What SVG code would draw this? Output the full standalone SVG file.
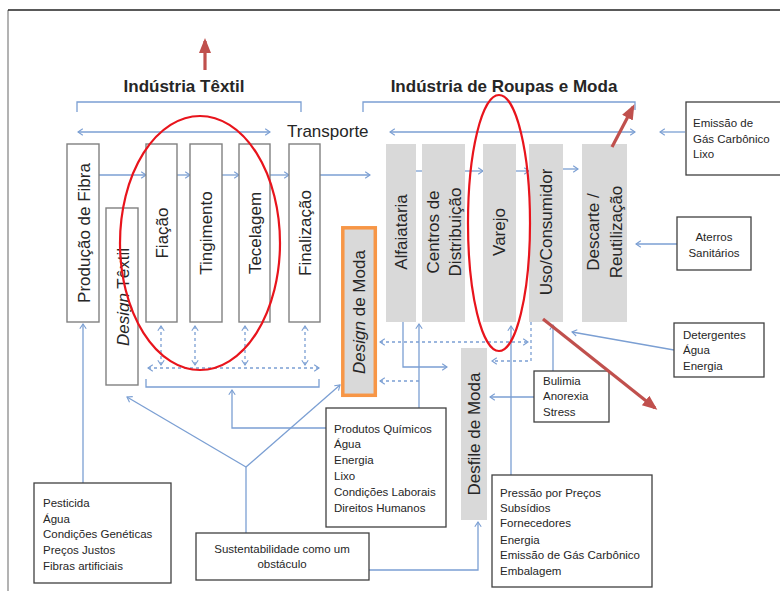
<svg xmlns="http://www.w3.org/2000/svg" width="780" height="591" viewBox="0 0 780 591">
<defs>
<style>
.t{font-family:"Liberation Sans",Arial,sans-serif;fill:#262626}
.h{font-size:17px;font-weight:bold}
.v{font-size:17px}
.s{font-size:11.5px}
.bx{fill:#fff;stroke:#808080;stroke-width:1.4}
.tb{fill:#fff;stroke:#404040;stroke-width:1.3}
.g{fill:#d9d9d9}
.c{fill:none;stroke:#7b9fd3;stroke-width:1.3}
.d{fill:none;stroke:#7b9fd3;stroke-width:1.3;stroke-dasharray:3 3}
.re{fill:none;stroke:#e8141c;stroke-width:2.2}
.ra{fill:none;stroke:#c0504d;stroke-width:3.2}
</style>
<marker id="a" viewBox="0 0 10 10" refX="9" refY="5" markerWidth="8" markerHeight="8" orient="auto-start-reverse" markerUnits="userSpaceOnUse">
<path d="M3,1 L9,5 L3,9" fill="none" stroke="#7b9fd3" stroke-width="1.4"/>
</marker>
<marker id="r" viewBox="0 0 10 10" refX="8" refY="5" markerWidth="15" markerHeight="15" orient="auto" markerUnits="userSpaceOnUse">
<path d="M0,1 L10,5 L0,9 Z" fill="#c0504d"/>
</marker>
</defs>
<rect width="780" height="591" fill="#fff"/>
<path d="M8,591 V10" fill="none" stroke="#8a8a8a" stroke-width="1.3"/>
<path d="M8,10 H780" fill="none" stroke="#222" stroke-width="1.5"/>

<g id="titles">
<text class="t h" x="184" y="92" text-anchor="middle">Indústria Têxtil</text>
<text class="t h" x="504" y="92" text-anchor="middle">Indústria de Roupas e Moda</text>
<text class="t v" x="287" y="137">Transporte</text>
</g>

<g id="connectors">
<path class="c" d="M77,112 V102 H301 V112"/>
<path class="c" d="M363,112 V102 H635 V110"/>
<path class="c" d="M78,132 H270" marker-start="url(#a)" marker-end="url(#a)"/>
<path class="c" d="M390,132 H635" marker-start="url(#a)" marker-end="url(#a)"/>
<path class="c" d="M685,132 H660" marker-end="url(#a)"/>
<path class="c" d="M99,175 H146" marker-end="url(#a)"/>
<path class="c" d="M177,175 H190" marker-end="url(#a)"/>
<path class="c" d="M222,175 H239" marker-end="url(#a)"/>
<path class="c" d="M270,175 H289" marker-end="url(#a)"/>
<path class="c" d="M320,175 H370" marker-end="url(#a)"/>
<path class="c" d="M416,171 H422"/>
<path class="c" d="M465,171 H483" marker-end="url(#a)"/>
<path class="c" d="M516,171 H529" marker-end="url(#a)"/>
<path class="c" d="M563,169 H578" marker-end="url(#a)"/>
<path class="d" d="M161,326 V365" marker-start="url(#a)" marker-end="url(#a)"/>
<path class="d" d="M195,326 V365" marker-start="url(#a)" marker-end="url(#a)"/>
<path class="d" d="M245,326 V365" marker-start="url(#a)" marker-end="url(#a)"/>
<path class="d" d="M305,326 V365" marker-start="url(#a)" marker-end="url(#a)"/>
<path class="d" d="M148,368 H319" marker-start="url(#a)" marker-end="url(#a)"/>
<path class="c" d="M146,379 V387 H319 V379"/>
<path class="c" d="M326,428 H232 V390" marker-end="url(#a)"/>
<path class="c" d="M83,483 V324" marker-end="url(#a)"/>
<path class="c" d="M246,533 V467"/>
<path class="c" d="M246,467 L127,397" marker-end="url(#a)"/>
<path class="c" d="M246,467 L340,385" marker-end="url(#a)"/>
<path class="c" d="M369,570 H478 V522" marker-end="url(#a)"/>
<path class="c" d="M419,408 V324" marker-end="url(#a)"/>
<path class="c" d="M403,322 V367 H447" marker-end="url(#a)"/>
<path class="d" d="M380,342 H528" marker-start="url(#a)" marker-end="url(#a)"/>
<path class="d" d="M531,322 V361 H492" marker-end="url(#a)"/>
<path class="d" d="M419,381 H380" marker-end="url(#a)"/>
<path class="c" d="M534,397 H490" marker-end="url(#a)"/>
<path class="c" d="M553,371 V325" marker-end="url(#a)"/>
<path class="c" d="M511,475 V326" marker-end="url(#a)"/>
<path class="c" d="M674,350 L572,332" marker-end="url(#a)"/>
<path class="c" d="M677,244 H636" marker-end="url(#a)"/>
</g>

<g id="producao-fibra"><rect class="bx" x="67" y="144" width="32" height="178"/><text class="t v" transform="translate(84,233) rotate(-90)" text-anchor="middle" dominant-baseline="central">Produção de Fibra</text></g>
<g id="design-textil"><rect class="bx" x="106" y="208" width="32" height="177"/><text class="t v" transform="translate(123,297) rotate(-90)" text-anchor="middle" dominant-baseline="central"><tspan font-style="italic">Design</tspan> Têxtil</text></g>
<g id="fiacao"><rect class="bx" x="146" y="144" width="31" height="178"/><text class="t v" transform="translate(162,233) rotate(-90)" text-anchor="middle" dominant-baseline="central">Fiação</text></g>
<g id="tingimento"><rect class="bx" x="190" y="144" width="32" height="178"/><text class="t v" transform="translate(206,233) rotate(-90)" text-anchor="middle" dominant-baseline="central">Tingimento</text></g>
<g id="tecelagem"><rect class="bx" x="239" y="144" width="31" height="178"/><text class="t v" transform="translate(255,233) rotate(-90)" text-anchor="middle" dominant-baseline="central">Tecelagem</text></g>
<g id="finalizacao"><rect class="bx" x="289" y="144" width="31" height="178"/><text class="t v" transform="translate(305,233) rotate(-90)" text-anchor="middle" dominant-baseline="central">Finalização</text></g>

<g id="alfaiataria"><rect class="g" x="386" y="144" width="30" height="178"/><text class="t v" transform="translate(401,232) rotate(-90)" text-anchor="middle" dominant-baseline="central">Alfaiataria</text></g>
<g id="centros"><rect class="g" x="422" y="144" width="43" height="178"/><text class="t v" transform="translate(433,232) rotate(-90)" text-anchor="middle" dominant-baseline="central">Centros de</text><text class="t v" transform="translate(455,232) rotate(-90)" text-anchor="middle" dominant-baseline="central">Distribuição</text></g>
<g id="varejo"><rect class="g" x="483" y="144" width="33" height="178"/><text class="t v" transform="translate(499,232) rotate(-90)" text-anchor="middle" dominant-baseline="central">Varejo</text></g>
<g id="uso"><rect class="g" x="529" y="144" width="34" height="178"/><text class="t v" transform="translate(546,232) rotate(-90)" text-anchor="middle" dominant-baseline="central">Uso/Consumidor</text></g>
<g id="descarte"><rect class="g" x="582" y="144" width="45" height="178"/><text class="t v" transform="translate(593,232) rotate(-90)" text-anchor="middle" dominant-baseline="central">Descarte /</text><text class="t v" transform="translate(616,232) rotate(-90)" text-anchor="middle" dominant-baseline="central">Reutilização</text></g>
<g id="design-moda"><rect x="342.8" y="227.8" width="32.5" height="167.5" fill="#d9d9d9" stroke="#f79646" stroke-width="3.5"/><text class="t v" transform="translate(359,312) rotate(-90)" text-anchor="middle" dominant-baseline="central"><tspan font-style="italic">Design</tspan> de Moda</text></g>
<g id="desfile"><rect class="g" x="461" y="348" width="26" height="172"/><text class="t v" transform="translate(474,434) rotate(-90)" text-anchor="middle" dominant-baseline="central">Desfile de Moda</text></g>

<g id="emissao"><rect class="tb" x="686" y="102" width="100" height="73"/><text class="t s" x="693" y="127">Emissão de</text><text class="t s" x="693" y="143">Gás Carbônico</text><text class="t s" x="693" y="158">Lixo</text></g>
<g id="aterros"><rect class="tb" x="677" y="217" width="74" height="53"/><text class="t s" x="714" y="241" text-anchor="middle">Aterros</text><text class="t s" x="714" y="257" text-anchor="middle">Sanitários</text></g>
<g id="detergentes"><rect class="tb" x="674" y="323" width="90" height="54"/><text class="t s" x="683" y="339">Detergentes</text><text class="t s" x="683" y="354">Água</text><text class="t s" x="683" y="370">Energia</text></g>
<g id="bulimia"><rect class="tb" x="534" y="371" width="75" height="51"/><text class="t s" x="543" y="385">Bulimia</text><text class="t s" x="543" y="400">Anorexia</text><text class="t s" x="543" y="416">Stress</text></g>
<g id="produtos"><rect class="tb" x="326" y="408" width="120" height="119"/><text class="t s" x="334" y="433">Produtos Químicos</text><text class="t s" x="334" y="448">Água</text><text class="t s" x="334" y="464">Energia</text><text class="t s" x="334" y="480">Lixo</text><text class="t s" x="334" y="496">Condições Laborais</text><text class="t s" x="334" y="512">Direitos Humanos</text></g>
<g id="pesticida"><rect class="tb" x="34" y="483" width="137" height="100"/><text class="t s" x="43" y="507">Pesticida</text><text class="t s" x="43" y="523">Água</text><text class="t s" x="43" y="538">Condições Genéticas</text><text class="t s" x="43" y="554">Preços Justos</text><text class="t s" x="43" y="570">Fibras artificiais</text></g>
<g id="sustentabilidade"><rect class="tb" x="196" y="533" width="173" height="47"/><text class="t s" x="282" y="553" text-anchor="middle">Sustentabilidade como um</text><text class="t s" x="282" y="568" text-anchor="middle">obstáculo</text></g>
<g id="pressao"><rect class="tb" x="492" y="475" width="160" height="112"/><text class="t s" x="500" y="497">Pressão por Preços</text><text class="t s" x="500" y="512">Subsídios</text><text class="t s" x="500" y="527">Fornecedores</text><text class="t s" x="500" y="544">Energia</text><text class="t s" x="500" y="559">Emissão de Gás Carbônico</text><text class="t s" x="500" y="575">Embalagem</text></g>

<g id="highlights">
<ellipse class="re" cx="200" cy="243" rx="80" ry="127"/>
<ellipse class="re" cx="499" cy="223" rx="31" ry="128"/>
<path class="ra" d="M205,70 V41" marker-end="url(#r)"/>
<path class="ra" d="M612,147 L633,107" marker-end="url(#r)"/>
<path class="ra" d="M543,319 L655,408" marker-end="url(#r)"/>
</g>
</svg>
